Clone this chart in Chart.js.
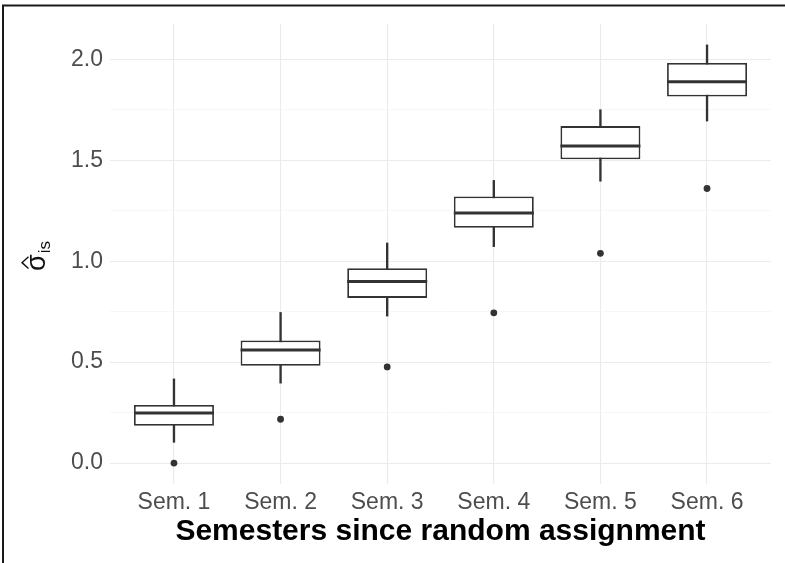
<!DOCTYPE html>
<html>
<head>
<meta charset="utf-8">
<script src="https://cdn.jsdelivr.net/npm/chart.js@4.4.1/dist/chart.umd.min.js"></script>
<style>
  html, body { margin: 0; padding: 0; background: #ffffff; }
  #wrap { width: 785px; height: 563px; position: relative; }
</style>
</head>
<body>
<div id="wrap"><canvas id="c" width="785" height="563"></canvas></div>
<script>
// ---- data ----
const categories = ['Sem. 1', 'Sem. 2', 'Sem. 3', 'Sem. 4', 'Sem. 5', 'Sem. 6'];
const positions = [1, 2, 3, 4, 5, 6];
const whiskerLow  = [0.103, 0.396, 0.728, 1.072, 1.396, 1.694];
const q1          = [0.185, 0.482, 0.818, 1.165, 1.505, 1.815];
const median      = [0.248, 0.560, 0.899, 1.239, 1.570, 1.889];
const q3          = [0.288, 0.607, 0.965, 1.320, 1.669, 1.982];
const whiskerHigh = [0.417, 0.746, 1.090, 1.400, 1.750, 2.071];
const outliers    = [0.000, 0.217, 0.476, 0.744, 1.039, 1.360];
const yTickValues = [0, 0.25, 0.5, 0.75, 1.0, 1.25, 1.5, 1.75, 2.0];
const xTitle = 'Semesters since random assignment';

const FONT = "'Liberation Sans', Arial, Helvetica, sans-serif";
const LINE = '#333333';
const GRID = '#ebebeb';

const whiskerData = positions.map((p, i) => ({ x: p, y: [whiskerLow[i], whiskerHigh[i]] }));
const boxData = positions.map((p, i) => ({ x: p, y: [q1[i], q3[i]] }));
const medianData = positions.map((p, i) => ({ x: p, y: median[i] }));
const outlierData = positions.map((p, i) => ({ x: p, y: outliers[i] }));

function zeroPadding(scale) {
  scale.paddingLeft = 0;
  scale.paddingRight = 0;
  scale.paddingTop = 0;
  scale.paddingBottom = 0;
}

const yTitlePlugin = {
  id: 'yTitle',
  afterDraw(chart) {
    const ctx = chart.ctx;
    const area = chart.chartArea;
    const cy = (area.top + area.bottom) / 2;
    ctx.save();
    ctx.fillStyle = '#111111';
    ctx.strokeStyle = '#111111';
    ctx.font = '27px ' + FONT;
    const sw = ctx.measureText('σ').width;
    ctx.font = '17px ' + FONT;
    const subw = ctx.measureText('is').width;
    const total = sw + 1 + subw;
    ctx.translate(45, cy + total / 2 + 2);
    ctx.rotate(-Math.PI / 2);
    ctx.textBaseline = 'alphabetic';
    ctx.textAlign = 'left';
    ctx.font = '27px ' + FONT;
    ctx.fillText('σ', 0, 0);
    // hat
    ctx.lineWidth = 1.4;
    ctx.beginPath();
    ctx.moveTo(sw / 2 - 5.8, -16.5);
    ctx.lineTo(sw / 2, -23);
    ctx.lineTo(sw / 2 + 5.8, -16.5);
    ctx.stroke();
    ctx.font = '17px ' + FONT;
    ctx.fillText('is', sw + 1, 5);
    ctx.restore();
  }
};

const framePlugin = {
  id: 'frame',
  afterDraw(chart) {
    const ctx = chart.ctx;
    ctx.save();
    ctx.strokeStyle = '#1a1a1a';
    ctx.lineWidth = 2;
    ctx.beginPath();
    ctx.moveTo(3, chart.height);
    ctx.lineTo(3, 5.5);
    ctx.lineTo(chart.width, 5.5);
    ctx.stroke();
    ctx.restore();
  }
};

new Chart(document.getElementById('c'), {
  type: 'bar',
  data: {
    datasets: [
      {
        type: 'scatter',
        label: 'outliers',
        data: outlierData,
        pointRadius: 3.4,
        pointBackgroundColor: LINE,
        pointBorderColor: LINE,
        pointBorderWidth: 0,
        order: 0
      },
      {
        type: 'scatter',
        label: 'median',
        data: medianData,
        pointStyle: 'line',
        pointRadius: 40,
        pointBorderColor: LINE,
        pointBorderWidth: 3,
        order: 1
      },
      {
        type: 'bar',
        label: 'box',
        data: boxData,
        grouped: false,
        backgroundColor: '#ffffff',
        borderColor: LINE,
        borderWidth: 1.8,
        borderSkipped: false,
        barPercentage: 0.75,
        categoryPercentage: 1.0,
        order: 2
      },
      {
        type: 'bar',
        label: 'whiskers',
        data: whiskerData,
        grouped: false,
        backgroundColor: LINE,
        borderWidth: 0,
        barThickness: 1.7,
        order: 3
      }
    ]
  },
  options: {
    responsive: false,
    animation: false,
    events: [],
    layout: { autoPadding: false, padding: { left: 0, right: 14, top: 24, bottom: 0 } },
    plugins: {
      legend: { display: false },
      tooltip: { enabled: false },
      title: { display: false }
    },
    scales: {
      x: {
        type: 'linear',
        min: 0.4,
        max: 6.6,
        offset: false,
        afterBuildTicks(scale) { scale.ticks = positions.map(v => ({ value: v })); },
        afterFit(scale) { scale.height = 79; zeroPadding(scale); },
        grid: { color: GRID, lineWidth: 1.1, drawTicks: false, offset: false },
        border: { display: false },
        ticks: {
          autoSkip: false,
          maxRotation: 0,
          padding: 5,
          color: '#4d4d4d',
          font: { family: FONT, size: 23 },
          callback: (v) => categories[positions.indexOf(v)] || ''
        },
        title: {
          display: true,
          text: xTitle,
          color: '#000000',
          font: { family: FONT, size: 30, weight: 'bold' },
          padding: { top: 0, bottom: 13 }
        }
      },
      y: {
        type: 'linear',
        min: -0.1036,
        max: 2.1746,
        afterBuildTicks(scale) { scale.ticks = yTickValues.map(v => ({ value: v })); },
        afterFit(scale) { scale.width = 110; zeroPadding(scale); },
        grid: {
          drawTicks: false,
          color: (c) => (Math.abs((c.tick.value * 2) % 1) < 1e-6 ? GRID : '#f3f3f3'),
          lineWidth: (c) => (Math.abs((c.tick.value * 2) % 1) < 1e-6 ? 1.1 : 0.7)
        },
        border: { display: false },
        ticks: {
          padding: 7,
          color: '#4d4d4d',
          font: { family: FONT, size: 23 },
          callback: (v) => (Math.abs((v * 2) % 1) < 1e-6 ? v.toFixed(1) : '')
        },
        title: { display: false }
      }
    }
  },
  plugins: [yTitlePlugin, framePlugin]
});
</script>
</body>
</html>
